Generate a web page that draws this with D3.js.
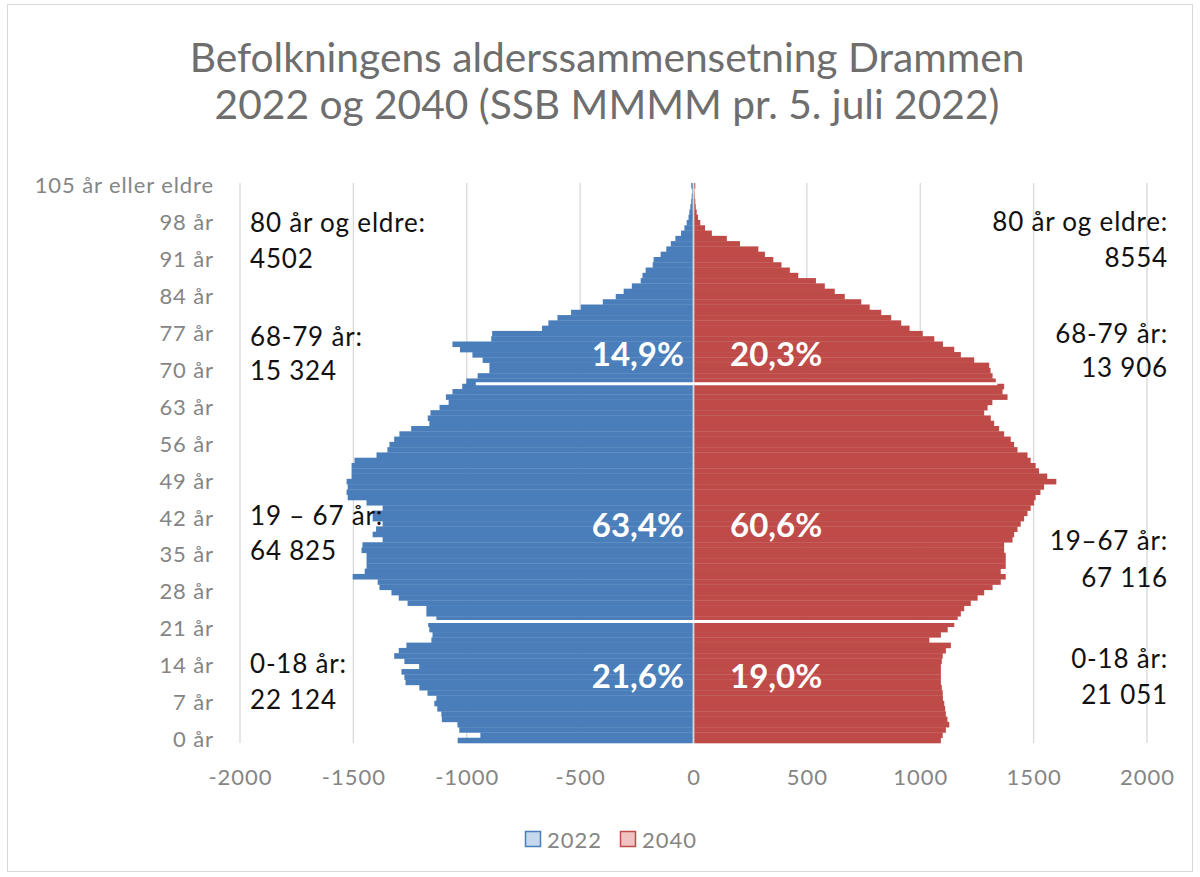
<!DOCTYPE html>
<html>
<head>
<meta charset="utf-8">
<script src="https://cdn.jsdelivr.net/npm/d3@7"></script>
<style>
  body { margin: 0; background: #fff; }
  svg { display: block; }
  text { font-family: Lato, "Open Sans", sans-serif; }
</style>
</head>
<body>
<svg id="chart" width="1200" height="877"></svg>
<script>
// ---- data ----
const ages = d3.range(0, 106);
const ageLabels = ages.map(a => a === 105 ? "105 år eller eldre" : a + " år");

// persons per one-year age, 2022 (drawn to the left)
const pop2022 = [
  1040, 940, 1033, 1041, 1110, 1112, 1130, 1143, 1134, 1173,
  1209, 1270, 1275, 1288, 1210, 1275, 1320, 1300, 1266, 1156,
  1151, 1165, 1170, 1134, 1178, 1178, 1261, 1300, 1332, 1385,
  1393, 1503, 1450, 1442, 1442, 1442, 1464, 1460, 1371, 1415,
  1400, 1371, 1415, 1415, 1371, 1442, 1525, 1530, 1525, 1530,
  1508, 1508, 1508, 1495, 1398, 1350, 1341, 1320, 1297, 1245,
  1165, 1172, 1160, 1120, 1080, 1092, 1063, 1020, 1002, 952,
  900, 900, 930, 975, 1030, 1063, 892, 888, 668, 640,
  600, 540, 497, 400, 343, 308, 272, 233, 225, 211,
  180, 176, 145, 120, 100, 80, 55, 40, 30, 22,
  18, 14, 10, 8, 6, 10
];
// persons per one-year age, 2040 (drawn to the right)
const pop2040 = [
  1091, 1099, 1113, 1128, 1120, 1113, 1110, 1106, 1100, 1099,
  1095, 1091, 1091, 1091, 1091, 1095, 1099, 1113, 1135, 1040,
  1091, 1121, 1150, 1165, 1179, 1194, 1223, 1253, 1282, 1319,
  1355, 1377, 1355, 1377, 1377, 1377, 1370, 1370, 1407, 1414,
  1429, 1443, 1458, 1473, 1487, 1502, 1509, 1530, 1546, 1600,
  1560, 1524, 1509, 1487, 1473, 1429, 1414, 1399, 1370, 1348,
  1326, 1311, 1282, 1297, 1318, 1385, 1363, 1370, 1333, 1319,
  1310, 1304, 1238, 1179, 1150, 1100, 1062, 1011, 953, 916,
  872, 828, 777, 740, 667, 623, 579, 540, 462, 425,
  388, 352, 315, 286, 205, 147, 81, 51, 30, 20,
  14, 10, 8, 6, 5, 8
];

const xTicks = [-2000, -1500, -1000, -500, 0, 500, 1000, 1500, 2000];
const seriesNames = ["2022", "2040"];
const titleLines = ["Befolkningens alderssammensetning Drammen", "2022 og 2040 (SSB MMMM pr. 5. juli 2022)"];

const notes2022 = [["80 år og eldre:", "4502"], ["68-79 år:", "15 324"], ["19 – 67 år:", "64 825"], ["0-18 år:", "22 124"]];
const notes2040 = [["80 år og eldre:", "8554"], ["68-79 år:", "13 906"], ["19–67 år:", "67 116"], ["0-18 år:", "21 051"]];
const share2022 = ["14,9%", "63,4%", "21,6%"];
const share2040 = ["20,3%", "60,6%", "19,0%"];

// white divider lines: lower edge of this age row, value extent
const dividerAges = [68, 23];
const dividerFrom = [-960, -1190];
const dividerTo = [1340, 1170];

// ---- drawing ----
const svg = d3.select("#chart");
const blue = "#4a7ebb", red = "#be4b48";

// chart frame
svg.append("rect")
  .attr("x", 7.5).attr("y", 4.5)
  .attr("width", 1185).attr("height", 867)
  .attr("fill", "none").attr("stroke", "#d9d9d9");

const x = d3.scaleLinear().domain([-2000, 2000]).range([240, 1147]);
const y = d3.scaleBand().domain(ageLabels).range([743, 183]).padding(0);

// gridlines
svg.append("g").selectAll("line")
  .data(xTicks)
  .join("line")
  .attr("x1", d => x(d)).attr("x2", d => x(d))
  .attr("y1", 183).attr("y2", 743)
  .attr("stroke", "#d9d9d9").attr("stroke-width", 1.3);

// bars
const bars = svg.append("g");
bars.selectAll("rect.b22")
  .data(pop2022)
  .join("rect")
  .attr("class", "b22")
  .attr("x", d => x(-d))
  .attr("y", (d, i) => y(ageLabels[i]))
  .attr("width", d => x(0) - 0.8 - x(-d))
  .attr("height", y.bandwidth() + 0.3)
  .attr("fill", blue);

bars.selectAll("rect.b40")
  .data(pop2040)
  .join("rect")
  .attr("class", "b40")
  .attr("x", x(0) + 0.8)
  .attr("y", (d, i) => y(ageLabels[i]))
  .attr("width", d => x(d) - x(0) - 0.8)
  .attr("height", y.bandwidth() + 0.3)
  .attr("fill", red);

// divider lines between age groups
svg.append("g").selectAll("line")
  .data(dividerAges)
  .join("line")
  .attr("x1", (d, i) => x(dividerFrom[i]))
  .attr("x2", (d, i) => x(dividerTo[i]))
  .attr("y1", d => y(ageLabels[d]) + y.bandwidth())
  .attr("y2", d => y(ageLabels[d]) + y.bandwidth())
  .attr("stroke", "#fff").attr("stroke-width", 3);

// y axis (age labels every 7 years)
const yAxis = d3.axisLeft(y)
  .tickValues(ageLabels.filter((d, i) => i % 7 === 0))
  .tickSize(0).tickPadding(26);
const ya = svg.append("g").attr("transform", "translate(240,0)").call(yAxis);
ya.select(".domain").remove();
ya.selectAll("text").attr("fill", "#858585")
  .style("font-size", "22px").style("font-family", "Lato").style("letter-spacing", "0.9px");

// x axis
const xAxis = d3.axisBottom(x).tickValues(xTicks).tickFormat(d => String(d)).tickSize(0).tickPadding(26);
const xa = svg.append("g").attr("transform", "translate(0,743)").call(xAxis);
xa.select(".domain").remove();
xa.selectAll("text").attr("fill", "#858585")
  .style("font-size", "22px").style("font-family", "Lato").style("letter-spacing", "1px");

// title
const title = svg.append("g").attr("fill", "#6e6e6e").attr("text-anchor", "middle");
const t1 = title.append("text").attr("x", 607).attr("y", 72).style("font-size", "34px").text(titleLines[0]);
const t2 = title.append("text").attr("x", 607).attr("y", 119).style("font-size", "34px").text(titleLines[1]);
const fit = 835 / t1.node().getComputedTextLength();
t1.style("font-size", (34 * fit) + "px");
t2.style("font-size", (34 * fit) + "px");

// side notes
const leftY = [[222, 258], [336, 370], [515, 550], [663, 699]];
const rightY = [[221, 257], [333, 367], [540, 577], [658, 694]];
const notesL = svg.append("g").attr("fill", "#111")
  .style("font-size", "26px").style("letter-spacing", "0.8px");
notes2022.forEach((lines, i) => {
  lines.forEach((s, j) => {
    notesL.append("text").attr("x", 250).attr("y", leftY[i][j])
      .attr("dominant-baseline", "central").text(s);
  });
});
const notesR = svg.append("g").attr("fill", "#111").attr("text-anchor", "end")
  .style("font-size", "26px").style("letter-spacing", "0.8px");
notes2040.forEach((lines, i) => {
  lines.forEach((s, j) => {
    notesR.append("text").attr("x", 1168).attr("y", rightY[i][j])
      .attr("dominant-baseline", "central").text(s);
  });
});

// shares inside bars
const shareY = [353, 524, 675];
const sh = svg.append("g").attr("fill", "#fff").style("font-size", "33px").style("font-weight", "bold");
sh.selectAll("text.l").data(share2022).join("text").attr("class", "l")
  .attr("x", 684).attr("y", (d, i) => shareY[i])
  .attr("text-anchor", "end").attr("dominant-baseline", "central").text(d => d);
sh.selectAll("text.r").data(share2040).join("text").attr("class", "r")
  .attr("x", 730).attr("y", (d, i) => shareY[i])
  .attr("dominant-baseline", "central").text(d => d);

// legend
const legColor = d3.scaleOrdinal().domain(seriesNames).range([blue, red]);
const legFill = d3.scaleOrdinal().domain(seriesNames).range(["#c6d7ee", "#f0c3c2"]);
const leg = svg.append("g").attr("transform", "translate(525,839)");
const item = leg.selectAll("g").data(seriesNames).join("g")
  .attr("transform", (d, i) => "translate(" + (i * 95) + ",0)");
item.append("rect")
  .attr("x", 0.5).attr("y", -7.5).attr("width", 15).attr("height", 15)
  .attr("fill", d => legFill(d)).attr("stroke", d => legColor(d)).attr("stroke-width", 1.5);
item.append("text")
  .attr("x", 22).attr("y", 0).attr("dominant-baseline", "central")
  .attr("fill", "#858585").style("font-size", "22px").style("letter-spacing", "1px").text(d => d);
</script>
</body>
</html>
